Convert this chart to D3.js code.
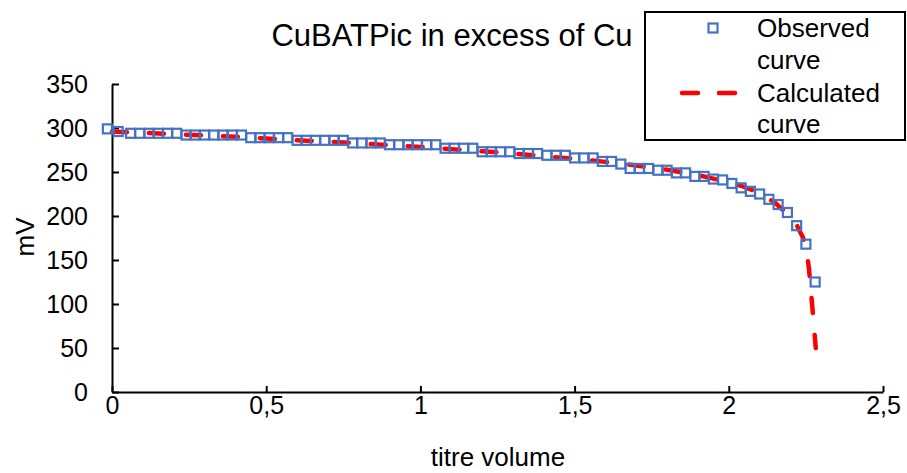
<!DOCTYPE html>
<html>
<head>
<meta charset="utf-8">
<script src="https://cdn.jsdelivr.net/npm/d3@7"></script>
<style>
  body { margin: 0; background: #fff; }
  text { font-family: "Liberation Sans", Arial, sans-serif; fill: #000; }
</style>
</head>
<body>
<svg></svg>
<script>
const w = 907
const h = 473
const svg = d3.select("svg").attr("width", w).attr("height", h)

// plot area
const plotLeft = 112
const plotRight = 883
const plotTop = 84
const plotBottom = 392

// observed curve (titre volume, mV)
const obsX = [-0.015, 0.02, 0.06, 0.09, 0.12, 0.15, 0.18, 0.21, 0.24, 0.27, 0.30, 0.33, 0.36, 0.39, 0.42,
  0.45, 0.48, 0.51, 0.54, 0.57, 0.60, 0.63, 0.66, 0.69, 0.72, 0.75, 0.78, 0.81, 0.84, 0.87,
  0.90, 0.93, 0.96, 0.99, 1.02, 1.05, 1.08, 1.11, 1.14, 1.17, 1.20, 1.23, 1.26, 1.29, 1.32,
  1.35, 1.38, 1.41, 1.44, 1.47, 1.50, 1.53, 1.56, 1.59, 1.62, 1.65, 1.68, 1.71, 1.74, 1.77,
  1.80, 1.83, 1.86, 1.89, 1.92, 1.95, 1.98, 2.01, 2.04, 2.07, 2.10, 2.13, 2.16, 2.19, 2.22,
  2.25, 2.28]
const obsY = [299, 296, 294, 294, 294, 294, 294, 294, 292, 292, 292, 292, 292, 292, 292,
  289, 289, 289, 289, 289, 286, 286, 286, 286, 286, 286, 283, 283, 283, 283,
  281, 281, 281, 281, 281, 281, 277, 277, 277, 277, 273, 273, 273, 273, 271,
  271, 271, 269, 269, 269, 266, 266, 266, 262, 262, 259, 254, 254, 254, 252,
  252, 249, 249, 245, 245, 242, 241, 237, 232, 228, 225, 219, 213, 204, 189,
  168, 125]

// calculated curve
const calcX = [0, 0.1, 0.2, 0.3, 0.4, 0.5, 0.6, 0.7, 0.8, 0.9, 1.0, 1.1, 1.2, 1.3, 1.4, 1.5,
  1.6, 1.7, 1.8, 1.9, 2.0, 2.05, 2.1, 2.15, 2.2, 2.22, 2.24, 2.25, 2.26, 2.27, 2.282]
const calcY = [296, 294.5, 293, 291.5, 290, 288, 286, 284.5, 282.5, 280.5, 278.5, 276, 273.5, 271, 268, 265,
  261.5, 257.5, 252.5, 246.5, 238.5, 233, 226, 215, 199, 190, 176, 166, 140, 100, 50]

const xTicks = [0, 0.5, 1, 1.5, 2, 2.5]
const xTickLabels = ["0", "0,5", "1", "1,5", "2", "2,5"]
const yTicks = [0, 50, 100, 150, 200, 250, 300, 350]

const blue = "#4472C4"
const red = "#FF0000"

const x = d3.scaleLinear().domain([0, 2.5]).range([plotLeft, plotRight])
const y = d3.scaleLinear().domain([0, 350]).range([plotBottom, plotTop])

// axes
const xAxis = d3.axisBottom(x)
  .tickValues(xTicks)
  .tickFormat((d, i) => xTickLabels[i])
  .tickSizeInner(-6)
  .tickSizeOuter(0)
  .tickPadding(4)
const yAxis = d3.axisLeft(y)
  .tickValues(yTicks)
  .tickSizeInner(-7)
  .tickSizeOuter(0)
  .tickPadding(24)

const gx = svg.append("g").attr("transform", `translate(0,${plotBottom})`).call(xAxis)
const gy = svg.append("g").attr("transform", `translate(${plotLeft},0)`).call(yAxis)
for (const g of [gx, gy]) {
  g.selectAll("path, line").attr("stroke", "#000").attr("stroke-width", 2)
  g.selectAll("text").style("font-size", "25px").attr("fill", "#000")
  g.attr("font-family", null).attr("font-size", null)
}

// calculated line
const calcData = calcX.map((v, i) => [v, calcY[i]])
const line = d3.line().x(d => x(d[0])).y(d => y(d[1]))
svg.append("path")
  .datum(calcData)
  .attr("d", line)
  .attr("fill", "none")
  .attr("stroke", red)
  .attr("stroke-width", 4.5)
  .attr("stroke-linecap", "round")
  .attr("stroke-dasharray", "15,22")

// observed squares
const obsData = obsX.map((v, i) => [v, obsY[i]])
const sq = 9
svg.append("g")
  .selectAll("rect")
  .data(obsData)
  .enter()
  .append("rect")
  .attr("x", d => x(d[0]) - sq / 2)
  .attr("y", d => y(d[1]) - sq / 2)
  .attr("width", sq)
  .attr("height", sq)
  .attr("fill", "none")
  .attr("stroke", blue)
  .attr("stroke-width", 2.2)

// title
svg.append("text")
  .attr("x", 452)
  .attr("y", 46)
  .attr("text-anchor", "middle")
  .style("font-size", "31px")
  .text("CuBATPic in excess of Cu")

// axis titles
svg.append("text")
  .attr("x", 498)
  .attr("y", 466)
  .attr("text-anchor", "middle")
  .style("font-size", "26px")
  .text("titre volume")
svg.append("text")
  .attr("transform", "translate(34,237) rotate(-90)")
  .attr("text-anchor", "middle")
  .style("font-size", "26px")
  .text("mV")

// legend
const lg = svg.append("g")
lg.append("rect")
  .attr("x", 645).attr("y", 12)
  .attr("width", 260).attr("height", 128)
  .attr("fill", "#fff")
  .attr("stroke", "#000")
  .attr("stroke-width", 2)
lg.append("rect")
  .attr("x", 713 - sq / 2).attr("y", 28 - sq / 2)
  .attr("width", sq).attr("height", sq)
  .attr("fill", "none").attr("stroke", blue).attr("stroke-width", 2.2)
lg.append("line")
  .attr("x1", 682).attr("x2", 737)
  .attr("y1", 93).attr("y2", 93)
  .attr("stroke", red).attr("stroke-width", 4.5)
  .attr("stroke-linecap", "round")
  .attr("stroke-dasharray", "16,21")
const legendLines = [["Observed", 37], ["curve", 69], ["Calculated", 102], ["curve", 133]]
lg.selectAll("text.lbl")
  .data(legendLines)
  .enter()
  .append("text")
  .attr("class", "lbl")
  .attr("x", 757)
  .attr("y", d => d[1])
  .style("font-size", "26px")
  .text(d => d[0])
</script>
</body>
</html>
